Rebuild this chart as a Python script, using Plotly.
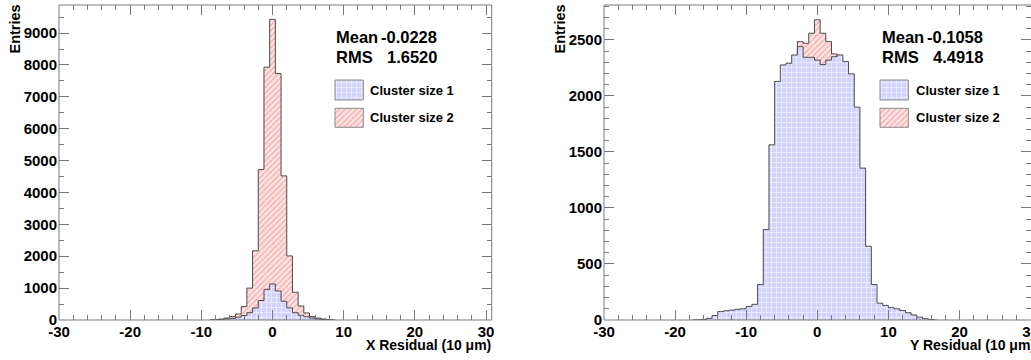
import plotly.graph_objects as go

W, H = 1031, 360

# ---------------- data ----------------
# Left panel: X residual, bins of 0.8 (10 um) centred on 0
x_centers = [-8.8, -8.0, -7.2, -6.4, -5.6, -4.8, -4.0, -3.2, -2.4, -1.6, -0.8, 0.0,
             0.8, 1.6, 2.4, 3.2, 4.0, 4.8, 5.6, 6.4, 7.2, 8.0, 8.8]
x_size2 = [0, 15, 30, 60, 110, 190, 420, 1000, 2170, 4720, 7930, 9430,
           7730, 4520, 2010, 870, 440, 220, 110, 60, 30, 15, 0]
x_size1 = [0, 5, 15, 30, 50, 90, 140, 230, 380, 610, 960, 1130,
           910, 590, 380, 230, 150, 100, 60, 30, 15, 5, 0]

# Right panel: Y residual
y_centers = [-17.6, -16.8, -16.0, -15.2, -14.4, -13.6, -12.8, -12.0, -11.2, -10.4,
             -9.6, -8.8, -8.0, -7.2, -6.4, -5.6, -4.8, -4.0, -3.2, -2.4, -1.6, -0.8,
             0.0, 0.8, 1.6, 2.4, 3.2, 4.0, 4.8, 5.6, 6.4, 7.2, 8.0, 8.8, 9.6, 10.4,
             11.2, 12.0, 12.8, 13.6, 14.4, 15.2, 16.0, 16.8]
y_size1 = [0, 2, 5, 15, 40, 75, 82, 88, 95, 100, 120, 140, 316, 807, 1564, 2129,
           2277, 2292, 2366, 2440, 2345, 2345, 2320, 2280, 2320, 2350, 2366, 2307,
           2197, 1900, 1356, 658, 317, 150, 130, 110, 100, 85, 65, 45, 25, 12, 5, 0]
y2_centers = [-3.2, -2.4, -1.6, -0.8, 0.0, 0.8, 1.6, 2.4, 3.2]
y_size2 = [0, 2485, 2470, 2560, 2680, 2560, 2485, 2375, 0]

x_tickvals = [-30, -20, -10, 0, 10, 20, 30]
x_ticktext = ["-30", "-20", "-10", "0", "10", "20", "30"]
left_y_tickvals = [0, 1000, 2000, 3000, 4000, 5000, 6000, 7000, 8000, 9000]
right_y_tickvals = [0, 500, 1000, 1500, 2000, 2500]

x_stats = ("-0.0228", "1.6520")
y_stats = ("-0.1058", "4.4918")
legend_labels = ["Cluster size 1", "Cluster size 2"]

# ---------------- styles ----------------
FONT = "Liberation Sans"
OUTLINE = "#4a4a4a"
FRAME = "#7a7a7a"
BLUE_PAT = dict(shape="+", bgcolor="#d2d2fa", fgcolor="#ededff", size=5, solidity=0.3)
RED_PAT = dict(shape="/", bgcolor="#ffe6e6", fgcolor="#f7a4a4", size=4, solidity=0.3)

# pixel geometry of the two frames
LX0, LX1 = 59, 491.7
RX0, RX1 = 604, 1031
PY0, PY1 = 5, 320

def px(x):
    return x / W

def py(y):
    return 1 - y / H

fig = go.Figure()

def hist(x, y, pat, xa, ya):
    fig.add_trace(go.Scatter(
        x=x, y=y, mode="lines", line=dict(shape="hvh", color=OUTLINE, width=1),
        fill="tozeroy", fillpattern=pat, fillcolor=pat["bgcolor"],
        xaxis=xa, yaxis=ya, showlegend=False, hoverinfo="skip"))

hist(x_centers, x_size2, RED_PAT, "x", "y")
hist(x_centers, x_size1, BLUE_PAT, "x", "y")
hist(y2_centers, y_size2, RED_PAT, "x2", "y2")
hist(y_centers, y_size1, BLUE_PAT, "x2", "y2")

# legend swatches on overlay pixel-space axes
def swatch(x0, x1, y0, y1, pat, xa, ya):
    fig.add_trace(go.Scatter(
        x=[x0, x1, x1, x0, x0], y=[y0, y0, y1, y1, y0], mode="lines",
        line=dict(color="#8a8a8a", width=1), fill="toself",
        fillpattern=pat, fillcolor=pat["bgcolor"],
        xaxis=xa, yaxis=ya, showlegend=False, hoverinfo="skip"))

for (bx, xa, ya) in [(335, "x3", "y3"), (880, "x4", "y4")]:
    swatch(bx, bx + 28.3, 80, 100, BLUE_PAT, xa, ya)
    swatch(bx, bx + 28.3, 108.3, 127.3, RED_PAT, xa, ya)

tickfont = dict(family=FONT, size=15, color="black", weight="bold")

def xaxis_cfg(domain, rng, anchor):
    return dict(domain=domain, range=rng, tickmode="array", tickvals=x_tickvals,
                ticktext=x_ticktext, ticks="inside", anchor=anchor,
                ticklen=10, tickcolor=FRAME, tickwidth=1, mirror="ticks",
                showline=False, showgrid=False, zeroline=False, tickfont=tickfont,
                minor=dict(dtick=2, tick0=0, ticks="inside", ticklen=5,
                           tickcolor=FRAME, showgrid=False),
                ticklabelstandoff=1, automargin=False, ticklabeloverflow="allow")

def yaxis_cfg(rng, tv, mdt, anchor):
    return dict(domain=[py(PY1), py(PY0)], range=rng, tickmode="array",
                tickvals=tv, ticktext=[str(v) for v in tv],
                ticks="inside", ticklen=10, tickcolor=FRAME, tickwidth=1,
                mirror="ticks", showline=False, showgrid=False, zeroline=False,
                tickfont=tickfont, anchor=anchor,
                minor=dict(dtick=mdt, tick0=0, ticks="inside", ticklen=5,
                           tickcolor=FRAME, showgrid=False),
                ticklabelstandoff=1, automargin=False, ticklabeloverflow="allow")

ov = dict(showgrid=False, zeroline=False, showticklabels=False, ticks="",
          showline=False, fixedrange=True, automargin=False)

fig.update_layout(
    template="none",
    width=W, height=H, margin=dict(l=0, r=0, t=0, b=0, autoexpand=False),
    paper_bgcolor="white", plot_bgcolor="rgba(0,0,0,0)",
    xaxis=xaxis_cfg([px(LX0), px(LX1)], [-30, 30.8], "y"),
    yaxis=yaxis_cfg([0, 9880], left_y_tickvals, 500, "x"),
    xaxis2=xaxis_cfg([px(RX0), px(RX1)], [-30, 30.06], "y2"),
    yaxis2=yaxis_cfg([0, 2812], right_y_tickvals, 100, "x2"),
    xaxis3=dict(domain=[px(LX0), px(LX1)], range=[LX0, LX1], anchor="y3", **ov),
    yaxis3=dict(domain=[py(PY1), py(PY0)], range=[PY1, PY0], anchor="x3", **ov),
    xaxis4=dict(domain=[px(RX0), px(RX1)], range=[RX0, RX1], anchor="y4", **ov),
    yaxis4=dict(domain=[py(PY1), py(PY0)], range=[PY1, PY0], anchor="x4", **ov),
)

# frames
for (x0, x1, right) in [(LX0, LX1, True), (RX0, RX1, False)]:
    segs = [((x0, PY0), (x0, PY1)), ((x0, PY0), (x1, PY0)), ((x0, PY1), (x1, PY1))]
    if right:
        segs.append(((x1, PY0), (x1, PY1)))
    for (a, b) in segs:
        fig.add_shape(type="line", xref="paper", yref="paper",
                      x0=px(a[0]), y0=py(a[1]), x1=px(b[0]), y1=py(b[1]),
                      line=dict(color=FRAME, width=1), layer="above")

def text(x, y, s, size, xanchor="left", yanchor="middle", angle=0):
    fig.add_annotation(x=px(x), y=py(y), xref="paper", yref="paper", text=s,
                       showarrow=False, xanchor=xanchor, yanchor=yanchor,
                       textangle=angle, borderpad=0,
                       font=dict(family=FONT, size=size, color="black", weight="bold"))

# stats + legend text
for (sx, stats) in [(335, x_stats), (880.7, y_stats)]:
    text(sx, 37, "Mean", 16.5)
    text(sx + 103, 37, stats[0], 16.5, xanchor="right")
    text(sx, 57, "RMS", 16.5)
    text(sx + 103, 57, stats[1], 16.5, xanchor="right")
    text(sx + 34, 90, legend_labels[0], 13)
    text(sx + 34, 118, legend_labels[1], 13)

# axis titles
text(491.7, 345, "X Residual (10 \u03bcm)", 14, xanchor="right")
text(1036, 345, "Y Residual (10 \u03bcm)", 14, xanchor="right")
text(15, 4, "Entries", 14.5, xanchor="center", yanchor="top", angle=-90)
text(560, 4, "Entries", 14.5, xanchor="center", yanchor="top", angle=-90)

fig.write_html("out.html")
